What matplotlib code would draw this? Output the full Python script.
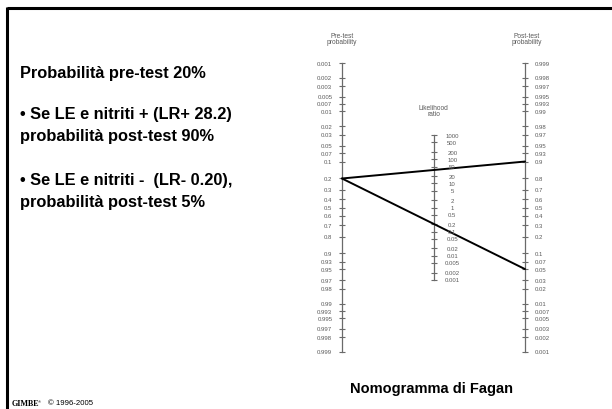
import numpy as np
import matplotlib.pyplot as plt
from matplotlib.lines import Line2D

# data
pre_labels = ["0.001", "0.002", "0.003", "0.005", "0.007", "0.01", "0.02", "0.03",
              "0.05", "0.07", "0.1", "0.2", "0.3", "0.4", "0.5", "0.6", "0.7", "0.8",
              "0.9", "0.93", "0.95", "0.97", "0.98", "0.99", "0.993", "0.995",
              "0.997", "0.998", "0.999"]
post_labels = pre_labels[::-1]
lr_labels = ["1000", "500", "200", "100", "50", "20", "10", "5", "2", "1", "0.5",
             "0.2", "0.1", "0.05", "0.02", "0.01", "0.005", "0.002", "0.001"]

pre_test = 0.20
post_pos = 0.90
post_neg = 0.05

text_lines = ["Probabilità pre-test 20%",
              "• Se LE e nitriti + (LR+ 28.2)",
              "probabilità post-test 90%",
              "• Se LE e nitriti -  (LR- 0.20),",
              "probabilità post-test 5%"]
text_y = [74, 115, 137, 181, 203]

plt.rcParams['font.family'] = ['Liberation Sans', 'DejaVu Sans']


def logit(p):
    p = np.asarray(p, dtype=float)
    return np.log(p / (1 - p))


W, H = 612, 410
fig = plt.figure(figsize=(W / 100, H / 100), dpi=100)
fig.patch.set_facecolor('white')

# slide frame (top and left rules)
fig.add_artist(Line2D([6.5 / W, 1], [1 - 8.5 / H, 1 - 8.5 / H], color='black', lw=2.2,
                      solid_capstyle='butt', transform=fig.transFigure))
fig.add_artist(Line2D([6.5 / W, 6.5 / W], [1 - 7.5 / H, 0], color='black', lw=2.2,
                      solid_capstyle='butt', transform=fig.transFigure))

# nomogram axes: x=0 pre-test, 0.5 likelihood ratio, 1 post-test ; y in logit units (down)
x0_px, x1_px = 342, 525
yc_px, s_px = 208.5, 20.92
xlo, xhi = -0.3, 1.3
ulo, uhi = -7.5, 7.5
left = (x0_px + xlo * (x1_px - x0_px)) / W
width = (xhi - xlo) * (x1_px - x0_px) / W
bottom = 1 - (yc_px + uhi * s_px) / H
height = (uhi - ulo) * s_px / H
ax = fig.add_axes([left, bottom, width, height])
ax.set_xlim(xlo, xhi)
ax.set_ylim(uhi, ulo)
ax.axis('off')

axis_col = '#6a6a6a'
lab_col = '#5a5a5a'

pre_vals = np.array([float(v) for v in pre_labels])
post_vals = np.array([float(v) for v in post_labels])
lr_vals = np.array([float(v) for v in lr_labels])

u_pre = logit(pre_vals)
u_post = -logit(post_vals)
u_lr = -np.log(lr_vals) / 2

for xpos, u in [(0, u_pre), (1, u_post), (0.5, u_lr)]:
    ax.plot([xpos, xpos], [u.min(), u.max()], color=axis_col, lw=0.9)
    ax.plot(np.full(len(u), xpos), u, ls='none', marker='_', ms=5, mew=0.8, color=axis_col)

for lab, u in zip(pre_labels, u_pre):
    ax.annotate(lab, (0, u), xytext=(-7, 0), textcoords='offset points',
                ha='right', va='center', fontsize=4.3, color=lab_col)
for lab, u in zip(post_labels, u_post):
    ax.annotate(lab, (1, u), xytext=(7, 0), textcoords='offset points',
                ha='left', va='center', fontsize=4.3, color=lab_col)
for lab, u in zip(lr_labels, u_lr):
    ax.annotate(lab, (0.5, u), xytext=(13.5, 0), textcoords='offset points',
                ha='center', va='center', fontsize=4.3, color=lab_col)

# headers
ax.annotate("Pre-test\nprobability", (0, u_pre.min()), xytext=(0, 13), textcoords='offset points',
            ha='center', va='bottom', fontsize=4.8, color=lab_col, linespacing=0.85)
ax.annotate("Post-test\nprobability", (1, u_post.min()), xytext=(1.5, 13), textcoords='offset points',
            ha='center', va='bottom', fontsize=4.8, color=lab_col, linespacing=0.85)
ax.annotate("Likelihood\nratio", (0.5, u_lr.min()), xytext=(0, 13), textcoords='offset points',
            ha='center', va='bottom', fontsize=4.8, color=lab_col, linespacing=0.85)

# nomogram lines
for post in [post_pos, post_neg]:
    ax.plot([0, 1], [logit(pre_test), -logit(post)], color='black', lw=1.4,
            solid_capstyle='round')

# left text block
for t, y in zip(text_lines, text_y):
    fig.text(20 / W, 1 - y / H, t, ha='left', va='center', fontsize=11.8,
             fontweight='bold', color='black')

fig.text(432 / W, 1 - 389 / H, "Nomogramma di Fagan", ha='center', va='center',
         fontsize=10.5, fontweight='bold')

fig.text(12 / W, 1 - 404 / H, "GIMBE", ha='left', va='center', fontsize=5.8,
         fontweight='bold', family='Liberation Serif')
fig.text(38 / W, 1 - 402 / H, "®", ha='left', va='center', fontsize=3)
fig.text(48 / W, 1 - 404 / H, "© 1996-2005", ha='left', va='center', fontsize=5.6)

fig.savefig('out.png', dpi=100, facecolor='white')
